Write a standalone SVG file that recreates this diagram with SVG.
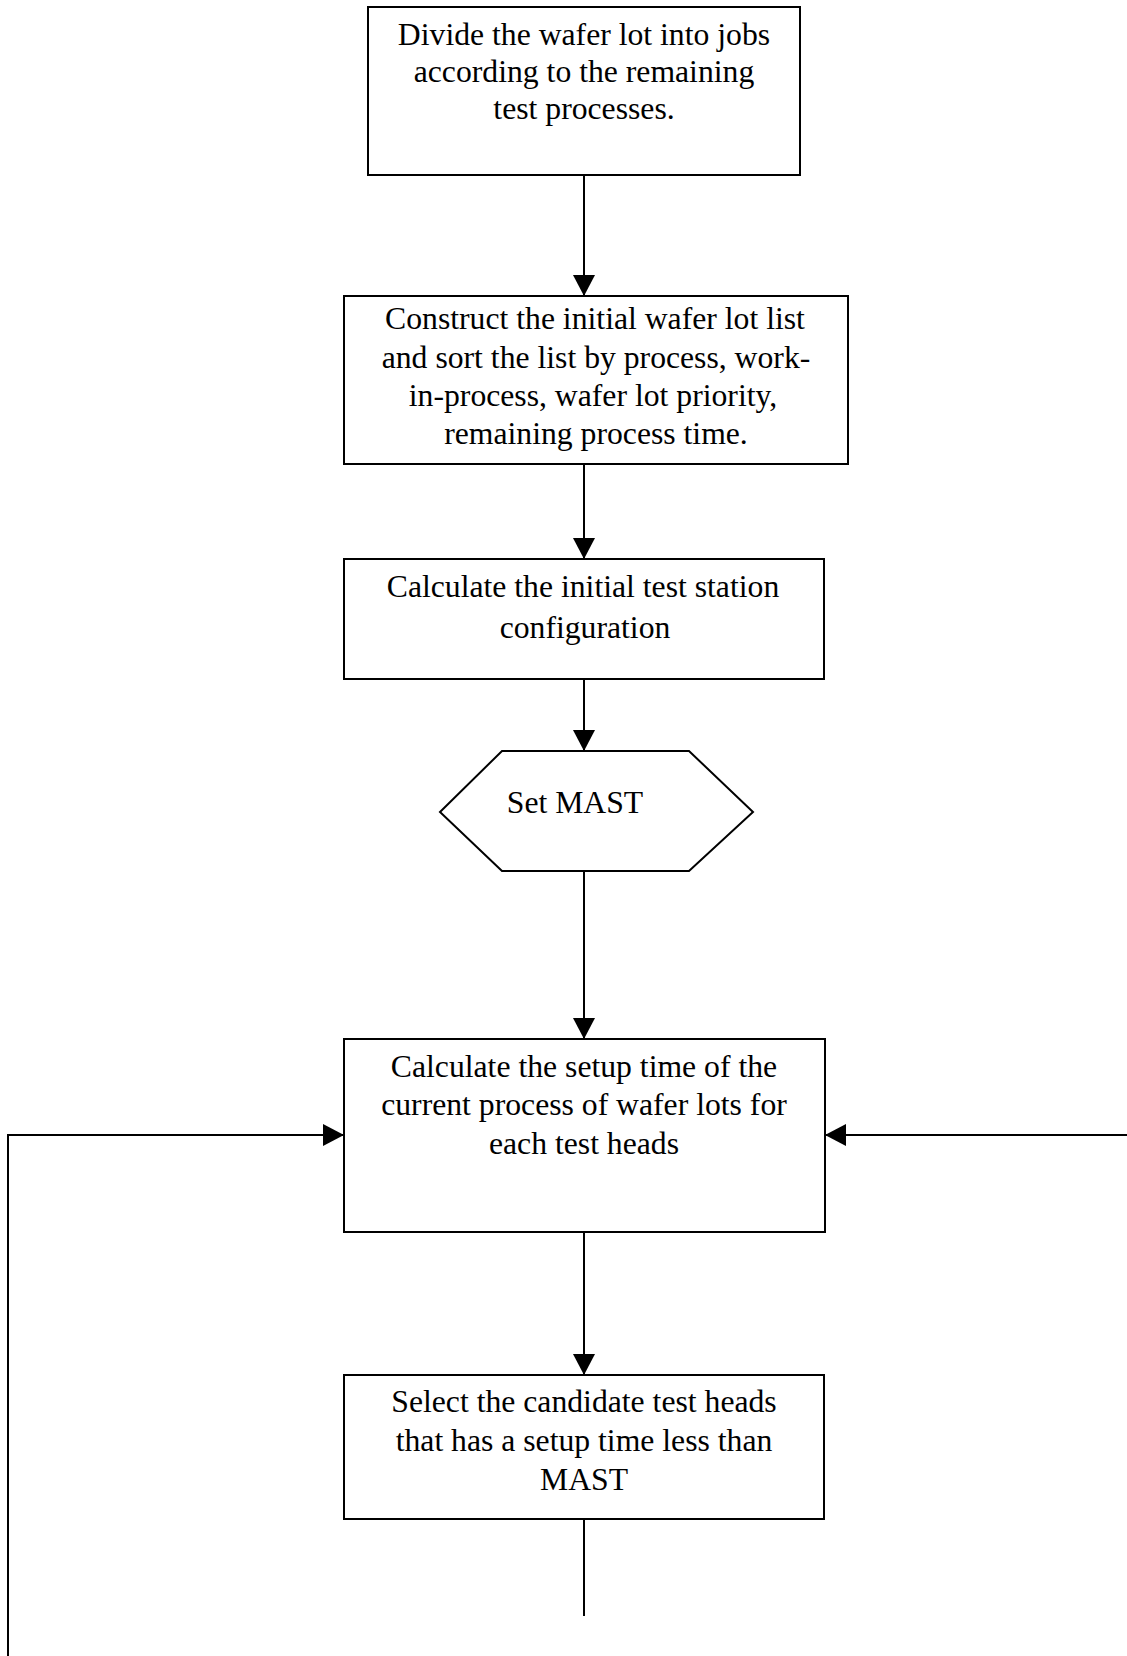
<svg xmlns="http://www.w3.org/2000/svg" width="1127" height="1656" viewBox="0 0 1127 1656">
<style>
.box{fill:#fff;stroke:#000;stroke-width:2}
.ln{fill:none;stroke:#000;stroke-width:2}
.t{font-family:"Liberation Serif","Times New Roman",serif;font-size:31.7px;fill:#000;text-anchor:middle}
</style>
<defs>
<marker id="ah" markerUnits="userSpaceOnUse" markerWidth="22" markerHeight="22" viewBox="0 0 21 22" refX="21" refY="11" orient="auto">
<path d="M0,0 L21,11 L0,22 Z" fill="#000"/>
</marker>
</defs>
<rect width="1127" height="1656" fill="#fff"/>
<g id="connectors">
<line class="ln" x1="584" y1="175" x2="584" y2="296" marker-end="url(#ah)"/>
<line class="ln" x1="584" y1="464" x2="584" y2="559" marker-end="url(#ah)"/>
<line class="ln" x1="584" y1="679" x2="584" y2="751" marker-end="url(#ah)"/>
<line class="ln" x1="584" y1="871" x2="584" y2="1039" marker-end="url(#ah)"/>
<line class="ln" x1="584" y1="1232" x2="584" y2="1375" marker-end="url(#ah)"/>
<line class="ln" x1="584" y1="1519" x2="584" y2="1616"/>
<polyline class="ln" points="8,1656 8,1135 344,1135" marker-end="url(#ah)"/>
<line class="ln" x1="1127" y1="1135" x2="825" y2="1135" marker-end="url(#ah)"/>
</g>
<g id="n1">
<rect class="box" x="368" y="7" width="432" height="168"/>
<text class="t" x="584" y="45">Divide the wafer lot into jobs</text>
<text class="t" x="584" y="82">according to the remaining</text>
<text class="t" x="584" y="119">test processes.</text>
</g>
<g id="n2">
<rect class="box" x="344" y="296" width="504" height="168"/>
<text class="t" x="595" y="329">Construct the initial wafer lot list</text>
<text class="t" x="596" y="368">and sort the list by process, work-</text>
<text class="t" x="593" y="406">in-process, wafer lot priority,</text>
<text class="t" x="596" y="444">remaining process time.</text>
</g>
<g id="n3">
<rect class="box" x="344" y="559" width="480" height="120"/>
<text class="t" x="583" y="597">Calculate the initial test station</text>
<text class="t" x="585" y="638">configuration</text>
</g>
<g id="n4">
<polygon class="box" points="502,751 689,751 753,812 689,871 502,871 440,812"/>
<text class="t" x="575" y="813">Set MAST</text>
</g>
<g id="n5">
<rect class="box" x="344" y="1039" width="481" height="193"/>
<text class="t" x="584" y="1077">Calculate the setup time of the</text>
<text class="t" x="584" y="1115">current process of wafer lots for</text>
<text class="t" x="584" y="1154">each test heads</text>
</g>
<g id="n6">
<rect class="box" x="344" y="1375" width="480" height="144"/>
<text class="t" x="584" y="1412">Select the candidate test heads</text>
<text class="t" x="584" y="1451">that has a setup time less than</text>
<text class="t" x="584" y="1490">MAST</text>
</g>
</svg>
